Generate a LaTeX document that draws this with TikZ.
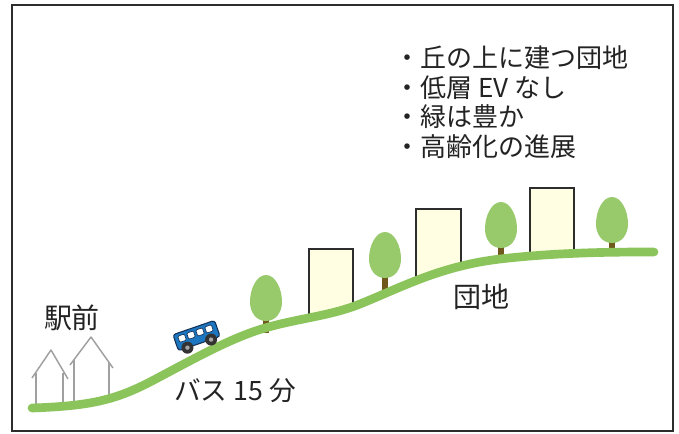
\documentclass[tikz,border=0pt]{standalone}
\usepackage{fontspec}
\newfontfamily\jp{Noto Sans CJK JP}
\definecolor{ground}{RGB}{140,196,92}
\definecolor{leaf}{RGB}{152,202,108}
\definecolor{trunk}{RGB}{112,88,28}
\definecolor{cream}{RGB}{255,253,226}
\definecolor{edge}{RGB}{45,45,45}
\definecolor{housegray}{RGB}{160,160,160}
\definecolor{busblue}{RGB}{28,118,192}
\definecolor{busline}{RGB}{22,48,88}
\definecolor{ink}{RGB}{35,35,35}
\tikzset{
  frame/.style={draw=edge,line width=1.6pt},
  building/.style={draw=edge,line width=1.5pt,line join=miter},
  house/.style={draw=housegray,line width=1.1pt,line join=round},
  hill/.style={draw=ground,line width=6.5pt,line cap=round,line join=round},
  label/.style={font=\jp\fontsize{21}{24}\selectfont,text=ink,inner sep=0pt},
  bullet/.style={font=\jp\fontsize{19.5}{22}\selectfont,text=ink,inner sep=0pt,anchor=base west},
  tree/.pic={
    \draw[trunk,line width=3.8pt] (0,-4) -- (0,12);
    \fill[leaf] (0,0) .. controls (-10,0) and (-16,-9) .. (-16,-19)
      .. controls (-16,-33) and (-9,-46) .. (0,-46)
      .. controls (9,-46) and (16,-33) .. (16,-19)
      .. controls (16,-9) and (10,0) .. (0,0) -- cycle;
  }
}
\begin{document}
\begin{tikzpicture}[x=0.75pt,y=-0.75pt]
\useasboundingbox (0,0) rectangle (679,433);
\fill[white] (0,0) rectangle (679,433);

% outer frame
\draw[frame] (12,5) rectangle (673,431);

% apartment blocks, bottoms resting on the slope
\fill[cream] (309,319) -- (353,310) -- (353,249) -- (309,249) -- cycle;
\draw[building] (309,319) -- (309,249) -- (353,249) -- (353,310);
\fill[cream] (416,281) -- (461,267) -- (461,209) -- (416,209) -- cycle;
\draw[building] (416,281) -- (416,209) -- (461,209) -- (461,267);
\fill[cream] (530,256) -- (574,254) -- (574,188) -- (530,188) -- cycle;
\draw[building] (530,256) -- (530,188) -- (574,188) -- (574,254);

% trees
\pic at (266,321) {tree};
\pic at (385,278) {tree};
\pic at (501,248) {tree};
\pic at (612,243) {tree};

% houses near the station
\draw[house] (32,378) -- (51,350) -- (68,379);
\draw[house] (36,373) -- (36,406);
\draw[house] (63,373) -- (63,405);
\draw[house] (70,365) -- (91,337) -- (113,368);
\draw[house] (74,360) -- (74,404);
\draw[house] (109,362) -- (109,401);

% the hill road
\draw[hill] (32,408) .. controls (90,406) and (115,400) .. (150,382)
  .. controls (190,361) and (230,338) .. (265,328)
  .. controls (300,318) and (330,316) .. (360,304)
  .. controls (400,288) and (440,266) .. (500,259)
  .. controls (560,252) and (620,252) .. (654,252);

% bus climbing the hill
\begin{scope}[shift={(197,337)},rotate=19]
  \draw[busline,line width=0.8pt,fill=busblue,rounded corners=2pt]
    (-22,-10) rectangle (22,7);
  \foreach \wx in {-18,-8.5,1,10.5}
    \draw[busline,line width=0.5pt,fill=white,rounded corners=0.8pt]
      (\wx,-7) rectangle ++(7,6.5);
  \foreach \wx in {-12.5,12.5} {
    \fill[black!80] (\wx,7) circle[radius=6];
    \fill[black!35] (\wx,7) circle[radius=2.2];
  }
\end{scope}

% labels
\node[label] (station) at (72,318) {駅前};
\node[label] (estate) at (481,297) {団地};
\node[label,font=\jp\fontsize{20}{24}\selectfont] (bus) at (235,391) {バス 15 分};

% notes
\node[bullet] (n1) at (394,67) {・丘の上に建つ団地};
\node[bullet] (n2) at (394,97) {・低層 EV なし};
\node[bullet] (n3) at (394,126) {・緑は豊か};
\node[bullet] (n4) at (394,156) {・高齢化の進展};
\end{tikzpicture}
\end{document}
